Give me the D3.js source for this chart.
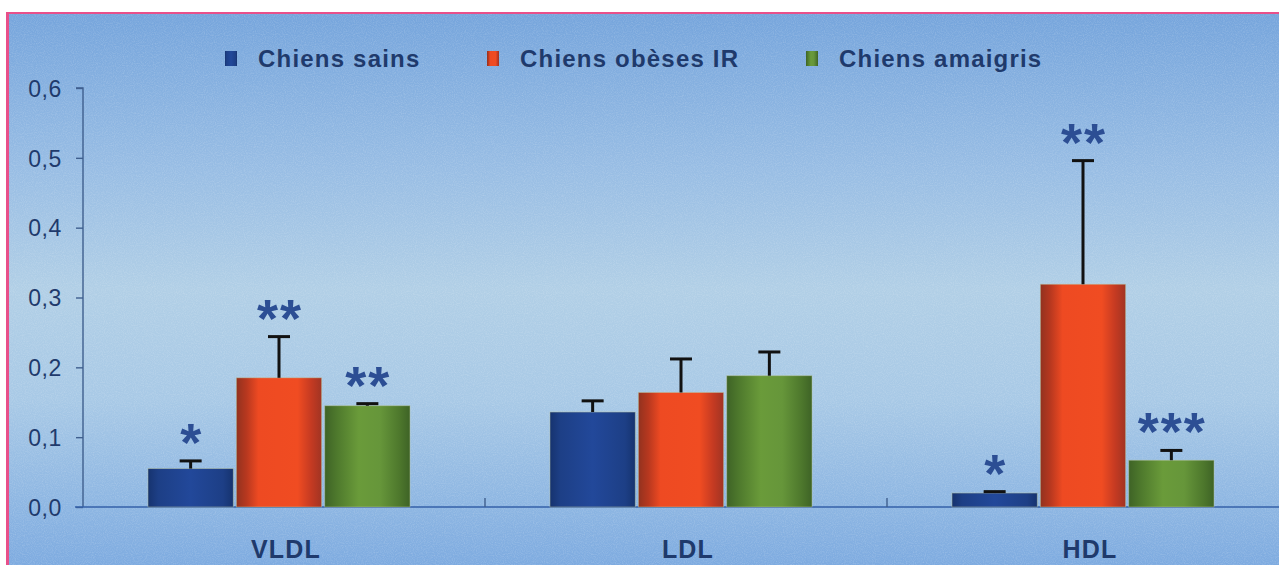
<!DOCTYPE html>
<html>
<head>
<meta charset="utf-8">
<script src="https://cdn.jsdelivr.net/npm/d3@7"></script>
<style>
  html, body { margin: 0; padding: 0; background: #ffffff; }
  svg { display: block; }
  text { font-family: "Liberation Sans", Arial, sans-serif; }
</style>
</head>
<body>
<svg id="chart" width="1279" height="565"></svg>
<script>
// Lipoprotein fractions by group
const categories = ["VLDL", "LDL", "HDL"];
const seriesNames = ["Chiens sains", "Chiens obèses IR", "Chiens amaigris"];
const sainsValues  = [0.055, 0.136, 0.020];
const obesesValues = [0.185, 0.164, 0.319];
const amaigrisValues = [0.145, 0.188, 0.067];
const sainsErrors  = [0.011, 0.016, 0.002];
const obesesErrors = [0.059, 0.048, 0.177];
const amaigrisErrors = [0.003, 0.034, 0.014];
const sainsStars  = ["*", "", "*"];
const obesesStars = ["**", "", "**"];
const amaigrisStars = ["**", "", "***"];
const yTicks = [0, 0.1, 0.2, 0.3, 0.4, 0.5, 0.6];

const seriesValues = [sainsValues, obesesValues, amaigrisValues];
const seriesErrors = [sainsErrors, obesesErrors, amaigrisErrors];
const seriesStars = [sainsStars, obesesStars, amaigrisStars];

const rows = [];
categories.forEach((c, ci) => {
  seriesNames.forEach((s, si) => {
    rows.push({ cat: c, series: s, si, value: seriesValues[si][ci], err: seriesErrors[si][ci], stars: seriesStars[si][ci] });
  });
});

const svg = d3.select("#chart");
const W = 1279, H = 565;

// gradient definitions
const defs = svg.append("defs");
const bg = defs.append("linearGradient").attr("id", "bg").attr("x1", 0).attr("y1", 0).attr("x2", 0).attr("y2", 1);
[["0%", "#76a5dc"], ["28%", "#98bde4"], ["50%", "#b1cfe6"], ["70%", "#a8c9e6"], ["100%", "#7eabe0"]]
  .forEach(([o, c]) => bg.append("stop").attr("offset", o).attr("stop-color", c));

const barStops = [
  [["0%", "#16336f"], ["12%", "#1d3f86"], ["50%", "#22489a"], ["88%", "#1d3f86"], ["100%", "#16336f"]],
  [["0%", "#92321f"], ["12%", "#b8381f"], ["26%", "#ee4a22"], ["72%", "#f04c22"], ["88%", "#c43a22"], ["100%", "#a13423"]],
  [["0%", "#3e6326"], ["15%", "#4f7a2d"], ["40%", "#6a9b3a"], ["65%", "#66963a"], ["88%", "#4d772c"], ["100%", "#3e6326"]]
];
barStops.forEach((stops, i) => {
  const g = defs.append("linearGradient").attr("id", "bar" + i).attr("x1", 0).attr("y1", 0).attr("x2", 1).attr("y2", 0);
  stops.forEach(([o, c]) => g.append("stop").attr("offset", o).attr("stop-color", c));
});

// grain texture
const grain = defs.append("filter").attr("id", "grain").attr("x", 0).attr("y", 0).attr("width", "100%").attr("height", "100%");
grain.append("feTurbulence").attr("type", "fractalNoise").attr("baseFrequency", 0.9).attr("numOctaves", 2).attr("seed", 3).attr("result", "n");
grain.append("feColorMatrix").attr("in", "n").attr("type", "matrix")
  .attr("values", "0 0 0 0 1  0 0 0 0 1  0 0 0 0 1  0 0 0 0.9 -0.35");

// page frame
svg.append("rect").attr("x", 6).attr("y", 12).attr("width", W - 6).attr("height", H - 12).attr("fill", "#e8508a");
svg.append("rect").attr("x", 9).attr("y", 14).attr("width", W - 9).attr("height", H - 14).attr("fill", "url(#bg)");
svg.append("rect").attr("x", 9).attr("y", 14).attr("width", W - 9).attr("height", H - 14).attr("filter", "url(#grain)").attr("opacity", 0.35);

// scales
const y = d3.scaleLinear().domain([0, 0.6]).range([507, 88]);
const x0 = d3.scaleBand().domain(categories).range([83, 1289]).paddingInner(0).paddingOuter(0);
const x1 = d3.scaleBand().domain(seriesNames).range([65, 327]).paddingInner(0.035);

const ink = "#1f3a6c";

// y axis
const yAxis = d3.axisLeft(y).tickValues(yTicks).tickSize(7).tickPadding(14)
  .tickFormat(d => d3.format(".1f")(d).replace(".", ","));
const ya = svg.append("g").attr("transform", "translate(83,0)").call(yAxis);
ya.select(".domain").attr("stroke", "#3f5f8e").attr("stroke-width", 1.4).attr("d", `M-7,${y(0.6)}H0V${y(0)}`);
ya.selectAll(".tick line").attr("stroke", "#3f5f8e").attr("stroke-width", 1.4);
ya.selectAll(".tick text").attr("fill", ink).attr("font-size", 23).attr("letter-spacing", 0.6)
  .attr("font-family", "Liberation Sans, Arial, sans-serif").attr("dy", "0.36em");

// baseline with category separators
const base = svg.append("g");
base.append("line").attr("x1", 75).attr("x2", W).attr("y1", y(0)).attr("y2", y(0))
  .attr("stroke", "#3560a8").attr("stroke-width", 1.6);
base.selectAll("line.sep").data(categories.slice(1)).join("line").attr("class", "sep")
  .attr("x1", d => x0(d)).attr("x2", d => x0(d)).attr("y1", y(0)).attr("y2", y(0) - 9)
  .attr("stroke", "#3f5f8e").attr("stroke-width", 1.4);

// category labels
svg.append("g").selectAll("text").data(categories).join("text")
  .attr("x", d => x0(d) + 203).attr("y", 558)
  .attr("text-anchor", "middle").attr("font-size", 25).attr("font-weight", "bold")
  .attr("letter-spacing", 1.2).attr("fill", ink).text(d => d);

// bars
const g = svg.append("g");
g.selectAll("rect.bar").data(rows).join("rect").attr("class", "bar")
  .attr("x", d => x0(d.cat) + x1(d.series))
  .attr("y", d => y(d.value))
  .attr("width", x1.bandwidth())
  .attr("height", d => y(0) - y(d.value))
  .attr("fill", d => `url(#bar${d.si})`)
  .attr("stroke", "#b9c4a0").attr("stroke-width", 0.8).attr("stroke-opacity", 0.6);

// error bars (upper whisker only)
const eb = g.selectAll("g.err").data(rows).join("g").attr("class", "err")
  .attr("transform", d => `translate(${x0(d.cat) + x1(d.series) + x1.bandwidth() / 2},0)`);
eb.append("line").attr("x1", 0).attr("x2", 0)
  .attr("y1", d => y(d.value)).attr("y2", d => y(d.value + d.err))
  .attr("stroke", "#111").attr("stroke-width", 3);
eb.append("line").attr("x1", -11).attr("x2", 11)
  .attr("y1", d => y(d.value + d.err)).attr("y2", d => y(d.value + d.err))
  .attr("stroke", "#111").attr("stroke-width", 3);

// significance stars
g.selectAll("text.star").data(rows.filter(d => d.stars)).join("text").attr("class", "star")
  .attr("x", d => x0(d.cat) + x1(d.series) + x1.bandwidth() / 2 + 1)
  .attr("y", d => y(d.value + d.err) + 0)
  .attr("text-anchor", "middle").attr("font-size", 54).attr("font-weight", "bold")
  .attr("letter-spacing", 2)
  .attr("fill", "#2c4e94").text(d => d.stars);

// legend
const legendX = [225, 487, 806];
const lg = svg.append("g").selectAll("g").data(seriesNames).join("g")
  .attr("transform", (d, i) => `translate(${legendX[i]},50)`);
lg.append("rect").attr("x", 0).attr("y", 1).attr("width", 12).attr("height", 15)
  .attr("fill", (d, i) => `url(#bar${i})`);
lg.append("text").attr("x", 33).attr("y", 17).attr("font-size", 24).attr("font-weight", "bold")
  .attr("letter-spacing", 1.2).attr("fill", ink).text(d => d);
</script>
</body>
</html>
